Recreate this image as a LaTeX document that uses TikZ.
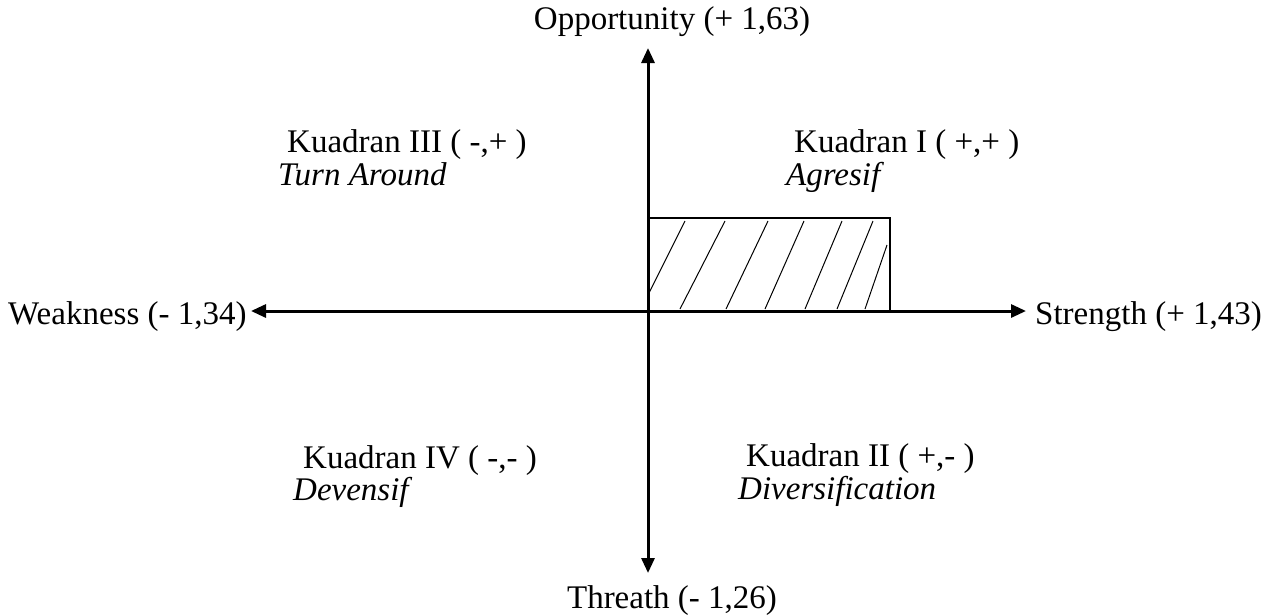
\documentclass[tikz,border=0pt]{standalone}
\usepackage{fontspec}
\setmainfont{Liberation Serif}
\usetikzlibrary{arrows.meta}
\begin{document}
\begin{tikzpicture}[x=1pt,y=-1pt,
  lbl/.style={inner sep=0pt,font=\fontsize{33}{39}\selectfont},
  axis/.style={line width=3pt,{Triangle[length=15pt,width=13pt]}-{Triangle[length=15pt,width=13pt]}},
  box/.style={line width=2.5pt},
  hatch/.style={line width=1pt}]
\useasboundingbox (0,0) rectangle (1271,614);
% axis end points
\coordinate (top) at (648,48);
\coordinate (bot) at (648,573);
\coordinate (left) at (251,311);
\coordinate (right) at (1026,311);
\draw[axis] (top) -- (bot);
\draw[axis] (left) -- (right);
% hatched rectangle
\coordinate (r1) at (648,311);
\coordinate (r2) at (648,218);
\coordinate (r3) at (890,218);
\coordinate (r4) at (890,311);
\draw[box] (r1) -- (r2) -- (r3) -- (r4);
\draw[hatch] (649,293) -- (685,221);
\draw[hatch] (680,309) -- (725,221);
\draw[hatch] (726,309) -- (768,221);
\draw[hatch] (765,309) -- (804,221);
\draw[hatch] (805,309) -- (842,221);
\draw[hatch] (837,309) -- (873,221);
\draw[hatch] (865,309) -- (887,245);
% labels
\node[lbl,anchor=base] (opp) at (672,29) {Opportunity (+ 1,63)};
\node[lbl,anchor=base] (thr) at (672,608) {Threath (- 1,26)};
\node[lbl,anchor=base west] (wk) at (8,324) {Weakness (- 1,34)};
\node[lbl,anchor=base west] (st) at (1035,324) {Strength (+ 1,43)};
\node[lbl,anchor=base west] (k3) at (287,152) {Kuadran III ( -,+ )};
\node[lbl,anchor=base west] (k3b) at (278,185) {\itshape Turn Around};
\node[lbl,anchor=base west] (k1) at (794,152) {Kuadran I ( +,+ )};
\node[lbl,anchor=base west] (k1b) at (786,185) {\itshape Agresif};
\node[lbl,anchor=base west] (k4) at (303,468) {Kuadran IV ( -,- )};
\node[lbl,anchor=base west] (k4b) at (293,500) {\itshape Devensif};
\node[lbl,anchor=base west] (k2) at (746,466) {Kuadran II ( +,- )};
\node[lbl,anchor=base west] (k2b) at (738,499) {\itshape Diversification};
\end{tikzpicture}
\end{document}
